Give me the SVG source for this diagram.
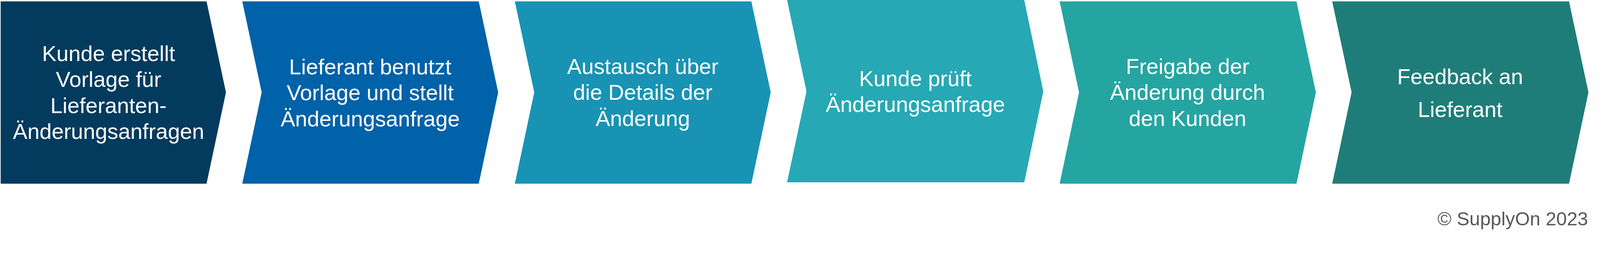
<svg xmlns="http://www.w3.org/2000/svg" width="4702" height="708" viewBox="0 0 4702 708" preserveAspectRatio="xMinYMin meet">
<style>
  svg { max-width: 100vw; }
  .lbl { font-family: "Liberation Sans", Arial, sans-serif; font-size: 64px; fill: #ffffff; text-anchor: middle; }
  .copy { font-family: "Liberation Sans", Arial, sans-serif; font-size: 56px; fill: #595959; text-anchor: end; }
</style>
<rect width="4702" height="708" fill="#ffffff"/>
<g id="connectors"/>
<g id="step1">
  <polygon points="2,4 607,4 664,271 607,539 2,539" fill="#033B5E"/>
  <text class="lbl" x="319" y="179">Kunde erstellt</text>
  <text class="lbl" x="319" y="255">Vorlage für</text>
  <text class="lbl" x="319" y="332">Lieferanten-</text>
  <text class="lbl" x="319" y="408">Änderungsanfragen</text>
</g>
<g id="step2">
  <polygon points="712,4 1407,4 1464,271 1407,539 712,539 769,271" fill="#0062A8"/>
  <text class="lbl" x="1088" y="218">Lieferant benutzt</text>
  <text class="lbl" x="1088" y="294">Vorlage und stellt</text>
  <text class="lbl" x="1088" y="371">Änderungsanfrage</text>
</g>
<g id="step3">
  <polygon points="1513,4 2208,4 2265,271 2208,539 1513,539 1570,271" fill="#1893B4"/>
  <text class="lbl" x="1889" y="217">Austausch über</text>
  <text class="lbl" x="1889" y="293">die Details der</text>
  <text class="lbl" x="1889" y="370">Änderung</text>
</g>
<g id="step4">
  <polygon points="2313,0 3010,0 3066,268 3010,535 2313,535 2370,268" fill="#26A9B4"/>
  <text class="lbl" x="2690" y="252">Kunde prüft</text>
  <text class="lbl" x="2690" y="328">Änderungsanfrage</text>
</g>
<g id="step5">
  <polygon points="3114,4 3810,4 3867,271 3810,539 3114,539 3171,271" fill="#25A5A2"/>
  <text class="lbl" x="3490" y="217">Freigabe der</text>
  <text class="lbl" x="3490" y="293">Änderung durch</text>
  <text class="lbl" x="3490" y="370">den Kunden</text>
</g>
<g id="step6">
  <polygon points="3915,4 4611,4 4668,271 4611,539 3915,539 3972,271" fill="#1F7D79"/>
  <text class="lbl" x="4291" y="247">Feedback an</text>
  <text class="lbl" x="4291" y="343">Lieferant</text>
</g>
<g id="footer">
  <text class="copy" x="4667" y="661">© SupplyOn 2023</text>
</g>
</svg>
